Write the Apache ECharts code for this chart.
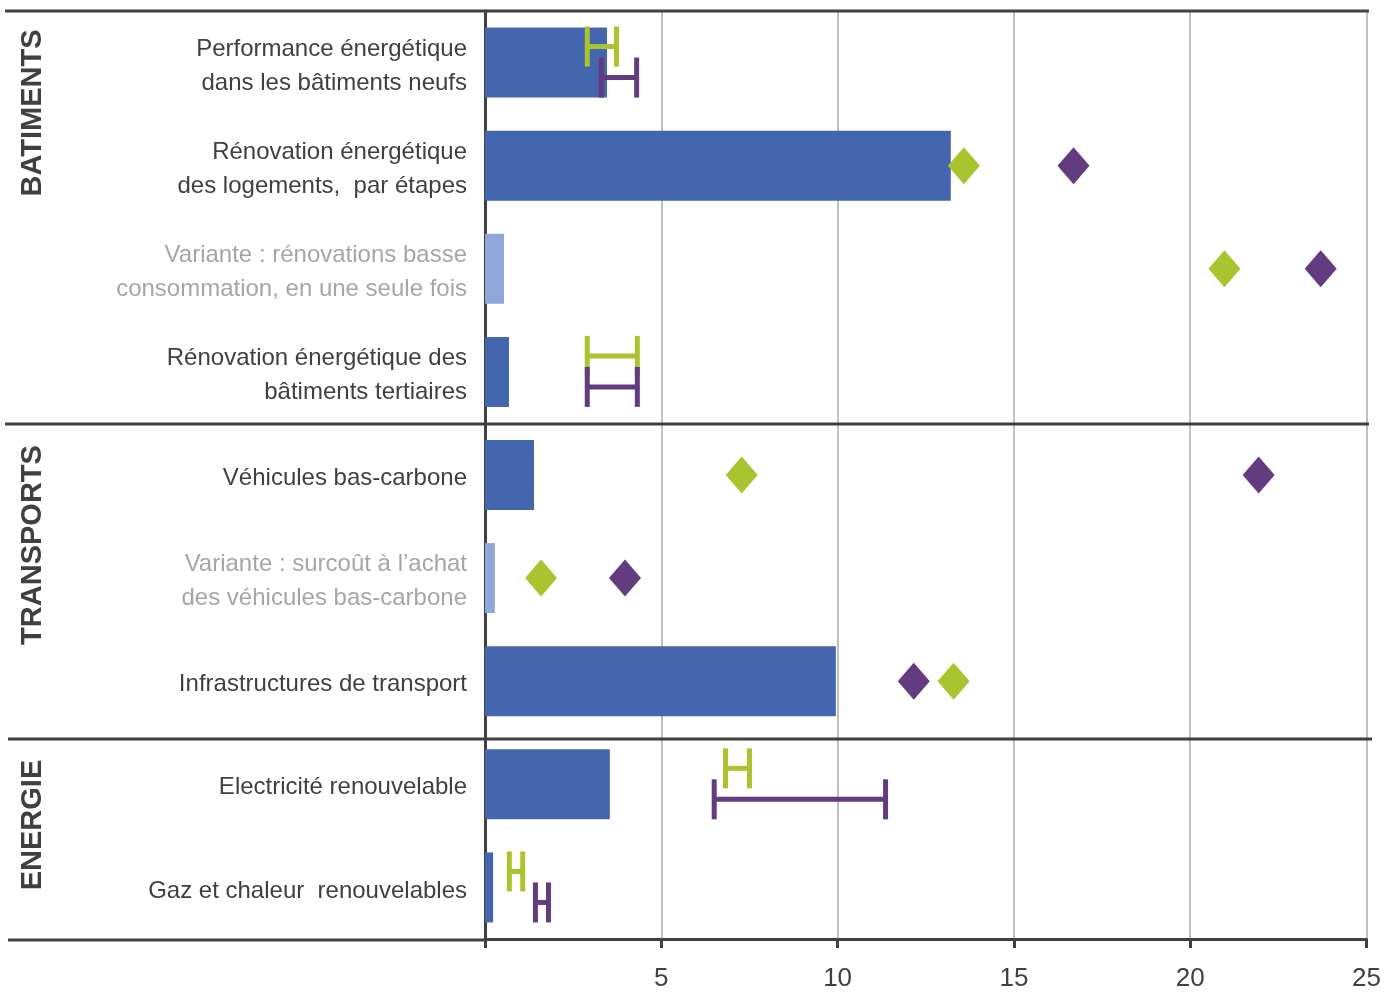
<!DOCTYPE html>
<html>
<head>
<meta charset="utf-8">
<script src="https://cdn.jsdelivr.net/npm/echarts@6/dist/echarts.min.js"></script>
<style>html,body{margin:0;padding:0;background:#fff}#c{width:1384px;height:992px}</style>
</head>
<body>
<div id="c"></div>
<script>
// ---- data ----
const categories = [
  "Performance énergétique\ndans les bâtiments neufs",
  "Rénovation énergétique\ndes logements,  par étapes",
  "Variante : rénovations basse\nconsommation, en une seule fois",
  "Rénovation énergétique des\nbâtiments tertiaires",
  "Véhicules bas-carbone",
  "Variante : surcoût à l’achat\ndes véhicules bas-carbone",
  "Infrastructures de transport",
  "Electricité renouvelable",
  "Gaz et chaleur  renouvelables"
];
const isVariant = [false, false, true, false, false, true, false, false, false];
const barValues = [3.46, 13.21, 0.54, 0.68, 1.39, 0.28, 9.95, 3.54, 0.23];
const greenPoints = [null, 13.58, 20.97, null, 7.28, 1.59, 13.29, null, null];
const purplePoints = [null, 16.69, 23.70, null, 21.94, 3.97, 12.16, null, null];
// ranges: [category index, low, high]
const greenRanges = [[0, 2.90, 3.73], [3, 2.90, 4.32], [7, 6.82, 7.50], [8, 0.69, 1.07]];
const purpleRanges = [[0, 3.30, 4.30], [3, 2.90, 4.32], [7, 6.50, 11.36], [8, 1.43, 1.80]];
const groups = [
  { name: "BATIMENTS", center: 113 },
  { name: "TRANSPORTS", center: 545 },
  { name: "ENERGIE", center: 825 }
];
const xTicks = [0, 5, 10, 15, 20, 25];

// ---- styles ----
const BAR = "#4466AE", BAR_LIGHT = "#8FA7D9", GREEN = "#A9C42F", PURPLE = "#633B7F";
const DARK = "#404040", GRAY = "#A6A6A6";
const FONT = "'Liberation Sans Narrow', 'Liberation Sans', Arial, sans-serif";

function rangeSeries(data, color, offset) {
  return {
    type: 'custom',
    data: data,
    encode: { x: [1, 2], y: 0 },
    z: 5,
    renderItem: function (params, api) {
      const ci = api.value(0);
      const p1 = api.coord([api.value(1), ci]);
      const p2 = api.coord([api.value(2), ci]);
      const y = p1[1] + offset;
      const h = 20;
      const st = { stroke: color, lineWidth: 5 };
      return {
        type: 'group',
        children: [
          { type: 'line', shape: { x1: p1[0], y1: y, x2: p2[0], y2: y }, style: st },
          { type: 'line', shape: { x1: p1[0], y1: y - h, x2: p1[0], y2: y + h }, style: st },
          { type: 'line', shape: { x1: p2[0], y1: y - h, x2: p2[0], y2: y + h }, style: st }
        ]
      };
    }
  };
}

const chart = echarts.init(document.getElementById('c'), null, { renderer: 'canvas' });
const sepLine = (y, x1, x2) => ({ type: 'line', shape: { x1: x1, y1: y, x2: x2, y2: y }, style: { stroke: DARK, lineWidth: 3 }, z: 10 });

chart.setOption({
  animation: false,
  backgroundColor: '#fff',
  grid: { left: 485, right: 17, top: 11, bottom: 52, containLabel: false },
  xAxis: {
    type: 'value', min: 0, max: 25, interval: 5,
    axisLine: { show: true, lineStyle: { color: DARK, width: 3 } },
    axisTick: { show: true, inside: false, length: 9, lineStyle: { color: DARK, width: 3 } },
    splitLine: { show: true, lineStyle: { color: '#BFBFBF', width: 2 } },
    axisLabel: {
      color: DARK, fontSize: 26, fontFamily: FONT, margin: 27,
      formatter: v => (v === 0 ? '' : String(v))
    }
  },
  yAxis: {
    type: 'category', data: categories, inverse: true,
    axisLine: { show: true, lineStyle: { color: DARK, width: 3 } },
    axisTick: { show: false },
    splitLine: { show: false },
    axisLabel: {
      margin: 18, align: 'right', padding: [7, 0, 0, 0],
      formatter: function (v, i) {
        const tag = isVariant[i] ? 'g' : 'n';
        return v.split('\n').map(s => '{' + tag + '|' + s + '}').join('\n');
      },
      rich: {
        n: { color: DARK, fontSize: 24, fontFamily: FONT, lineHeight: 34 },
        g: { color: GRAY, fontSize: 24, fontFamily: FONT, lineHeight: 34 }
      }
    }
  },
  series: [
    {
      type: 'bar', barWidth: 70,
      data: barValues.map((v, i) => ({ value: v, itemStyle: { color: isVariant[i] ? BAR_LIGHT : BAR } })),
      z: 2
    },
    {
      type: 'scatter', symbol: 'diamond', symbolSize: [32, 37],
      itemStyle: { color: GREEN, opacity: 1 },
      data: greenPoints.map((v, i) => (v == null ? [null, i] : [v, i])), z: 6
    },
    {
      type: 'scatter', symbol: 'diamond', symbolSize: [32, 37],
      itemStyle: { color: PURPLE, opacity: 1 },
      data: purplePoints.map((v, i) => (v == null ? [null, i] : [v, i])), z: 6
    },
    rangeSeries(greenRanges, GREEN, -16),
    rangeSeries(purpleRanges, PURPLE, 15)
  ],
  graphic: [
    sepLine(11, 5, 1369),
    sepLine(424, 5, 1369),
    sepLine(739, 8, 1372),
    sepLine(940, 8, 486)
  ].concat(groups.map(g => ({
    type: 'text', x: 33, y: g.center, rotation: Math.PI / 2, z: 10,
    style: {
      text: g.name, fill: DARK, fontSize: 29, fontWeight: 'bold',
      fontFamily: "'Liberation Sans', Arial, sans-serif",
      align: 'center', verticalAlign: 'middle'
    }
  })))
});
</script>
</body>
</html>
